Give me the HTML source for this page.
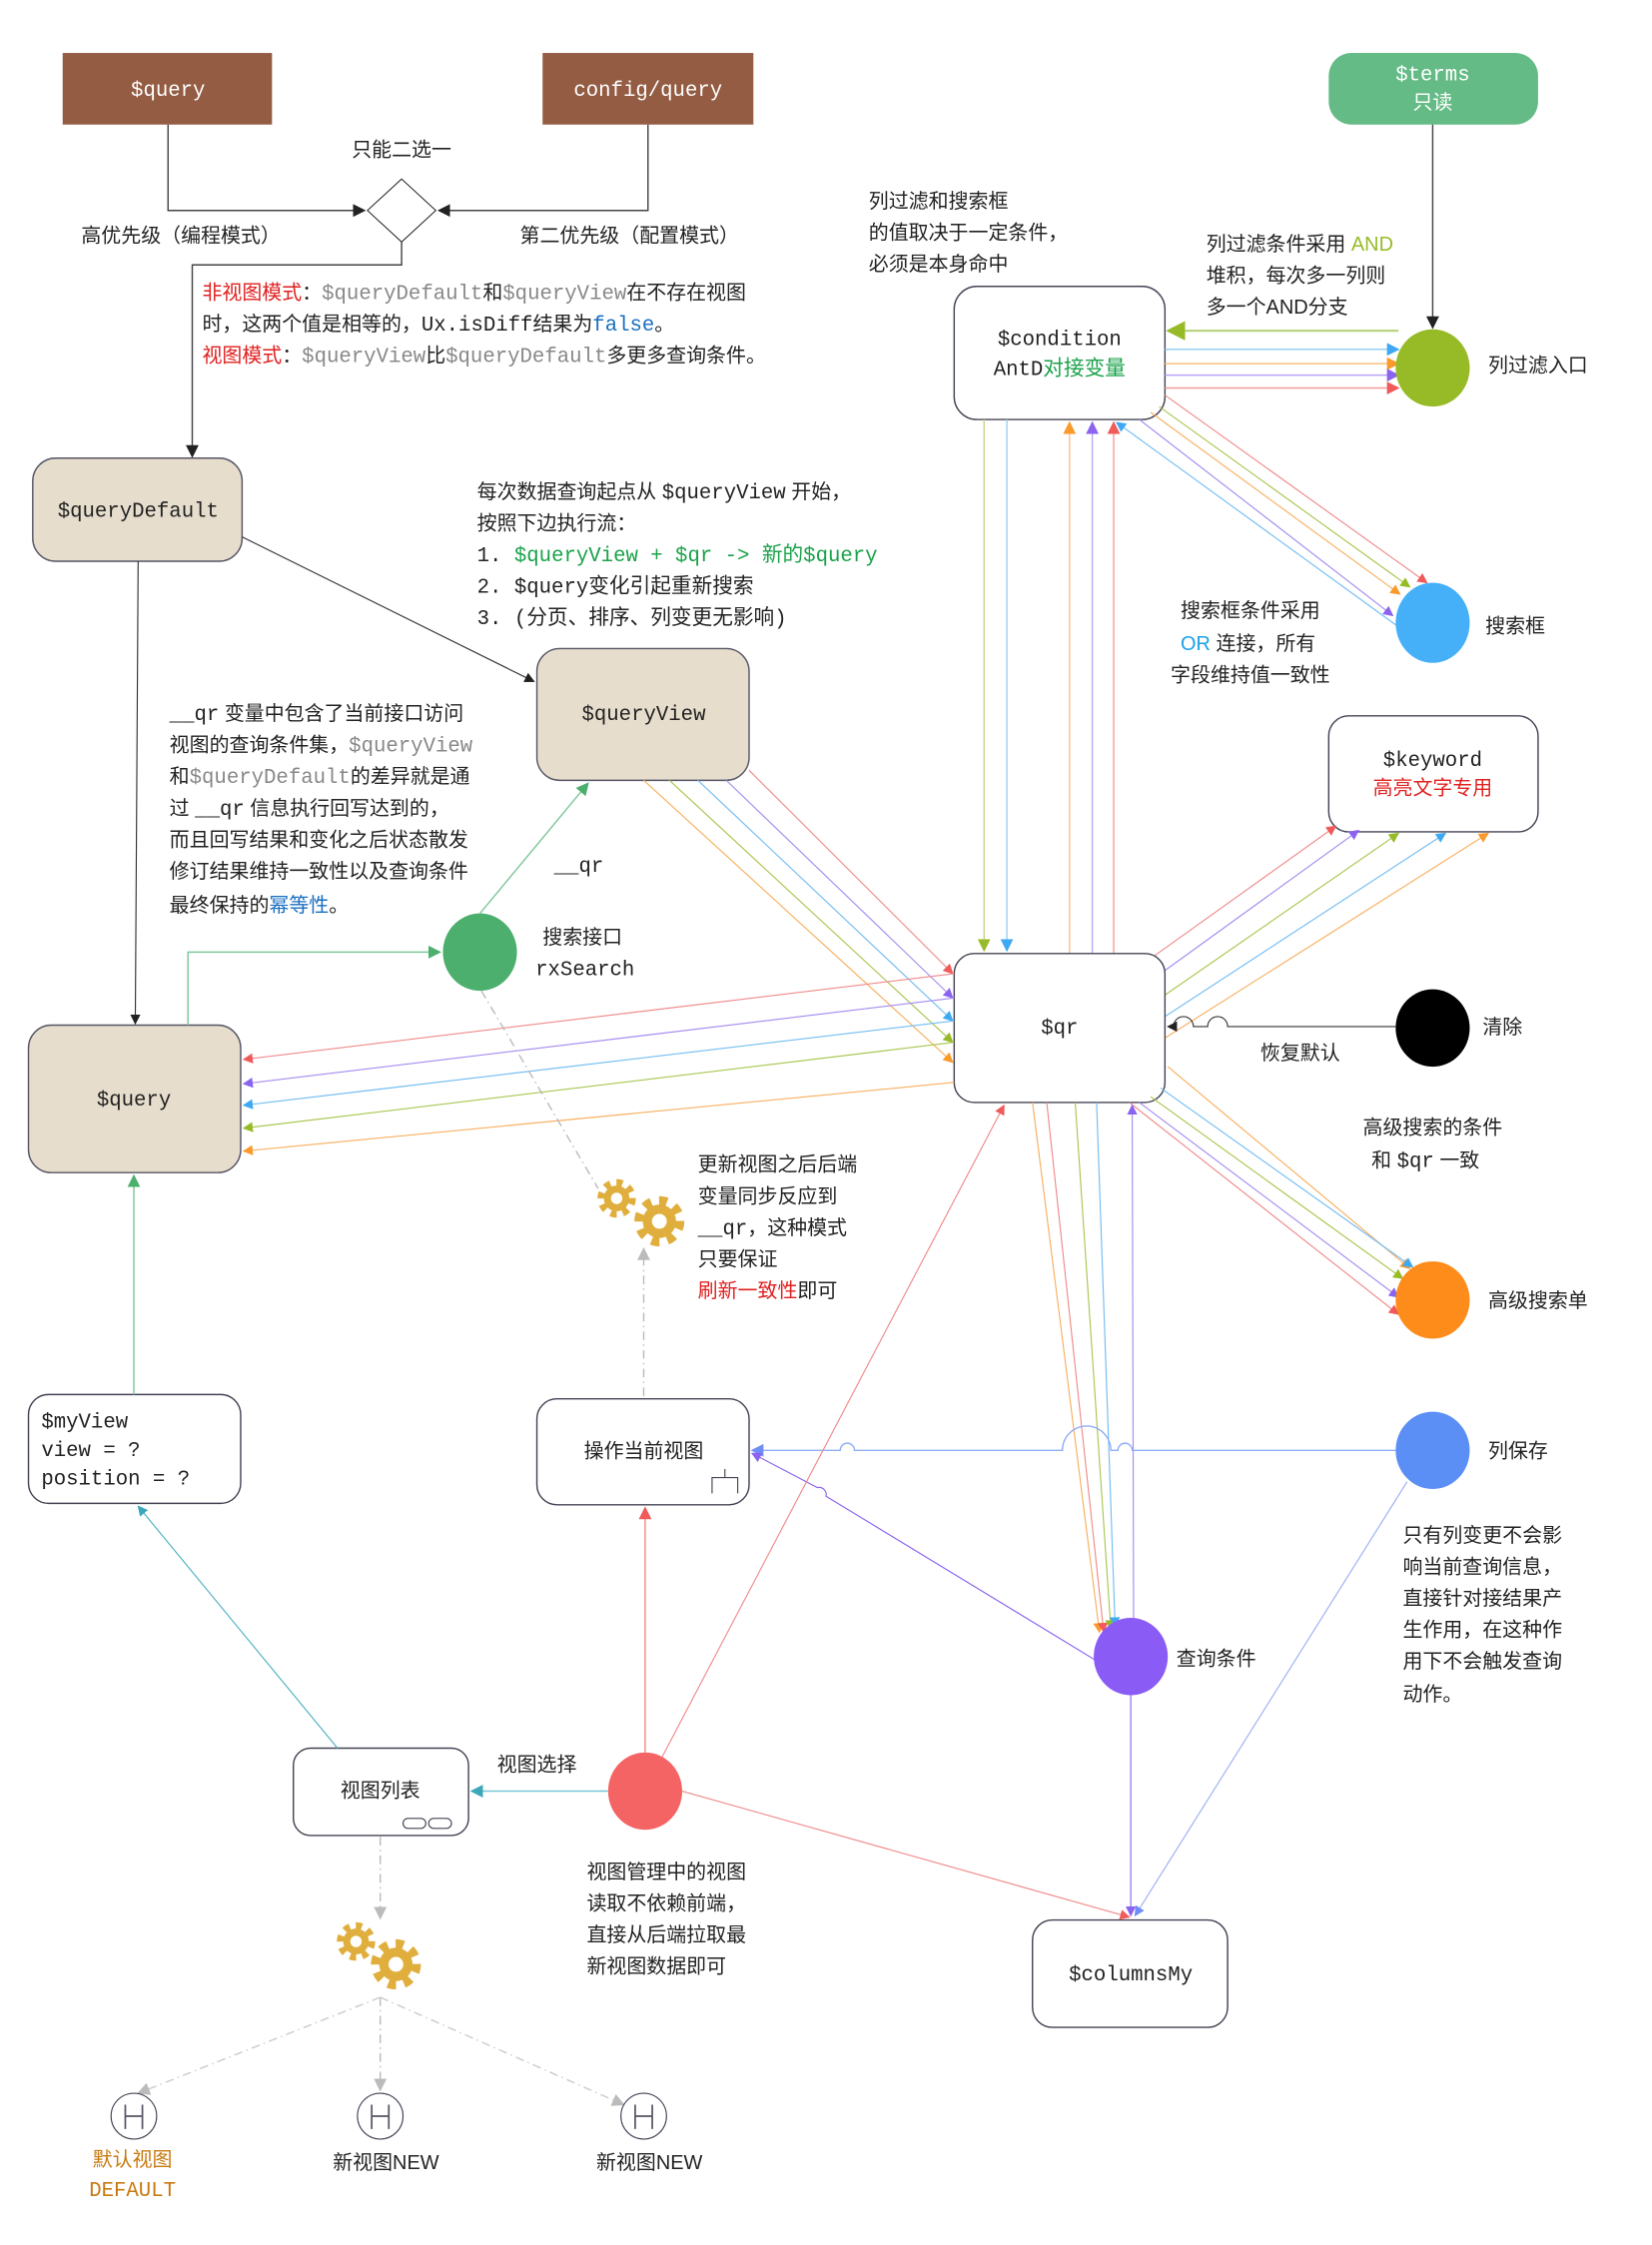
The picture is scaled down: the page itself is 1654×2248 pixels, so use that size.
<!DOCTYPE html>
<html><head><meta charset="utf-8">
<style>
html,body{margin:0;padding:0;background:#fff;}
svg{display:block;}
text{font-family:"Liberation Sans","Noto Sans CJK SC",sans-serif;font-size:14px;fill:#222;}
.m{font-family:"Liberation Mono","Noto Sans CJK SC",monospace;font-size:14.5px;}
</style></head><body>
<svg width="1654" height="2248" viewBox="0 0 1160 1568" preserveAspectRatio="none" xmlns="http://www.w3.org/2000/svg">
<defs>
<marker id="k" viewBox="0 0 10 10" refX="9" refY="5" markerWidth="9" markerHeight="9" orient="auto"><path d="M0,0L10,5L0,10z" fill="#222"/></marker>
<marker id="r" viewBox="0 0 10 10" refX="9" refY="5" markerWidth="9" markerHeight="9" orient="auto"><path d="M0,0L10,5L0,10z" fill="#f05a5a"/></marker>
<marker id="p" viewBox="0 0 10 10" refX="9" refY="5" markerWidth="9" markerHeight="9" orient="auto"><path d="M0,0L10,5L0,10z" fill="#8b63f0"/></marker>
<marker id="b" viewBox="0 0 10 10" refX="9" refY="5" markerWidth="9" markerHeight="9" orient="auto"><path d="M0,0L10,5L0,10z" fill="#3ea9f2"/></marker>
<marker id="g" viewBox="0 0 10 10" refX="9" refY="5" markerWidth="9" markerHeight="9" orient="auto"><path d="M0,0L10,5L0,10z" fill="#97bb27"/></marker>
<marker id="o" viewBox="0 0 10 10" refX="9" refY="5" markerWidth="9" markerHeight="9" orient="auto"><path d="M0,0L10,5L0,10z" fill="#fa9a2a"/></marker>
<marker id="t" viewBox="0 0 10 10" refX="9" refY="5" markerWidth="9" markerHeight="9" orient="auto"><path d="M0,0L10,5L0,10z" fill="#3aa8b8"/></marker>
<marker id="gg" viewBox="0 0 10 10" refX="9" refY="5" markerWidth="9" markerHeight="9" orient="auto"><path d="M0,0L10,5L0,10z" fill="#4caf6d"/></marker>
<marker id="bl" viewBox="0 0 10 10" refX="9" refY="5" markerWidth="9" markerHeight="9" orient="auto"><path d="M0,0L10,5L0,10z" fill="#6f8ef5"/></marker>
<marker id="gr" viewBox="0 0 10 10" refX="9" refY="5" markerWidth="9" markerHeight="9" orient="auto"><path d="M0,0L10,5L0,10z" fill="#bbb"/></marker>
<g id="gear"><circle r="9" fill="#e0ae3c"/><circle r="11" fill="none" stroke="#e0ae3c" stroke-width="5" stroke-dasharray="4.3 4.3"/><circle r="4" fill="#fff"/></g>
</defs>

<rect x="44" y="37" width="147" height="50" fill="#935c43"/>
<text x="118" y="67" text-anchor="middle" class="m" style="fill:#fff">$query</text>
<rect x="381" y="37" width="148" height="50" fill="#935c43"/>
<text x="455" y="67" text-anchor="middle" class="m" style="fill:#fff">config/query</text>
<rect x="933" y="37" width="147" height="50" rx="16" fill="#64bb85"/>
<text x="1006" y="56" text-anchor="middle" class="m" style="fill:#fff">$terms</text>
<text x="1006" y="76" text-anchor="middle" style="fill:#fff">只读</text>
<path d="M118,87V147H256" fill="none" stroke="#444" marker-end="url(#k)"/>
<path d="M455,87V147H308" fill="none" stroke="#444" marker-end="url(#k)"/>
<path d="M282,125L306,147L282,169L258,147z" fill="#fff" stroke="#222" stroke-width="0.7"/>
<text x="282" y="109" text-anchor="middle">只能二选一</text>
<text x="127" y="169" text-anchor="middle">高优先级（编程模式）</text>
<text x="442" y="169" text-anchor="middle">第二优先级（配置模式）</text>
<path d="M282,169V185H135V319" fill="none" stroke="#444" marker-end="url(#k)"/>
<text x="142" y="209"><tspan style="fill:#e02020">非视图模式</tspan>：<tspan class="m" style="fill:#888">$queryDefault</tspan>和<tspan class="m" style="fill:#888">$queryView</tspan>在不存在视图</text>
<text x="142" y="231">时，这两个值是相等的，<tspan class="m">Ux.isDiff</tspan>结果为<tspan class="m" style="fill:#1a6fc0">false</tspan>。</text>
<text x="142" y="253"><tspan style="fill:#e02020">视图模式</tspan>：<tspan class="m" style="fill:#888">$queryView</tspan>比<tspan class="m" style="fill:#888">$queryDefault</tspan>多更多查询条件。</text>

<path d="M1006,87V229" stroke="#444" fill="none" marker-end="url(#k)"/>

<rect x="23" y="320" width="147" height="72" rx="16" fill="#e6ddcc" stroke="#556"/>
<text x="97" y="361" text-anchor="middle" class="m">$queryDefault</text>
<path d="M170,375L375,476" stroke="#333" stroke-width="0.8" marker-end="url(#k)"/>
<path d="M97,392L95,715" stroke="#333" stroke-width="0.8" marker-end="url(#k)"/>
<text x="335" y="348">每次数据查询起点从 <tspan class="m">$queryView</tspan> 开始，</text>
<text x="335" y="370">按照下边执行流：</text>
<text x="335" y="392" class="m">1. <tspan style="fill:#1aa24a">$queryView + $qr -&gt; 新的$query</tspan></text>
<text x="335" y="414" class="m">2. $query变化引起重新搜索</text>
<text x="335" y="436" class="m">3. (分页、排序、列变更无影响)</text>
<rect x="377" y="453" width="149" height="92" rx="16" fill="#e6ddcc" stroke="#556"/>
<text x="452" y="503" text-anchor="middle" class="m">$queryView</text>
<rect x="20" y="716" width="149" height="103" rx="16" fill="#e6ddcc" stroke="#556"/>
<text x="94" y="772" text-anchor="middle" class="m">$query</text>

<text x="119" y="503"><tspan class="m">__qr</tspan> 变量中包含了当前接口访问</text>
<text x="119" y="525">视图的查询条件集，<tspan class="m" style="fill:#888">$queryView</tspan></text>
<text x="119" y="547">和<tspan class="m" style="fill:#888">$queryDefault</tspan>的差异就是通</text>
<text x="119" y="569">过 <tspan class="m">__qr</tspan> 信息执行回写达到的，</text>
<text x="119" y="591">而且回写结果和变化之后状态散发</text>
<text x="119" y="613">修订结果维持一致性以及查询条件</text>
<text x="119" y="637">最终保持的<tspan style="fill:#1a6fc0">幂等性</tspan>。</text>

<text x="610" y="145">列过滤和搜索框</text>
<text x="610" y="167">的值取决于一定条件，</text>
<text x="610" y="189">必须是本身命中</text>
<text x="847" y="175">列过滤条件采用 <tspan style="fill:#97bb27">AND</tspan></text>
<text x="847" y="197">堆积，每次多一列则</text>
<text x="847" y="219">多一个AND分支</text>
<rect x="670" y="200" width="148" height="93" rx="16" fill="#fff" stroke="#445"/>
<text x="744" y="241" text-anchor="middle" class="m">$condition</text>
<text x="744" y="262" text-anchor="middle" class="m">AntD<tspan style="fill:#1aa24a">对接变量</tspan></text>
<path d="M982,231H820" stroke="#b8d27a" stroke-width="1.5" marker-end="url(#g)"/>
<path d="M818,244H982" stroke="#8ccbf5" marker-end="url(#b)"/>
<path d="M818,254H982" stroke="#f8c07c" marker-end="url(#o)"/>
<path d="M818,262H982" stroke="#b9a2f3" marker-end="url(#p)"/>
<path d="M818,271H982" stroke="#f39a9a" marker-end="url(#r)"/>
<ellipse cx="1006" cy="257" rx="26" ry="27" fill="#97bb27"/>
<text x="1045" y="260">列过滤入口</text>

<path d="M818,276L1002,407" stroke="#f08a8a" stroke-width="0.8" marker-end="url(#r)"/>
<path d="M814,284L990,410" stroke="#a8c650" stroke-width="0.8" marker-end="url(#g)"/>
<path d="M808,288L983,415" stroke="#f7b060" stroke-width="0.8" marker-end="url(#o)"/>
<path d="M800,293L978,430" stroke="#a58cf0" stroke-width="0.8" marker-end="url(#p)"/>
<path d="M985,440L784,295" stroke="#74bdf2" stroke-width="0.8" marker-end="url(#b)"/>
<ellipse cx="1006" cy="435" rx="26" ry="28" fill="#45b0f8"/>
<text x="1043" y="442">搜索框</text>
<text x="829" y="431">搜索框条件采用</text>
<text x="829" y="454"><tspan style="fill:#1aa0e8">OR</tspan> 连接，所有</text>
<text x="822" y="476">字段维持值一致性</text>

<path d="M691,293V664" stroke="#c8d88a" marker-end="url(#g)"/>
<path d="M707,293V664" stroke="#9fd0f5" marker-end="url(#b)"/>
<path d="M751,666V295" stroke="#f8c590" marker-end="url(#o)"/>
<path d="M767,666V295" stroke="#bfaaf3" marker-end="url(#p)"/>
<path d="M782,666V295" stroke="#f2a0a0" marker-end="url(#r)"/>

<rect x="933" y="500" width="147" height="81" rx="14" fill="#fff" stroke="#445"/>
<text x="1006" y="535" text-anchor="middle" class="m">$keyword</text>
<text x="1006" y="555" text-anchor="middle" style="fill:#e02020">高亮文字专用</text>
<path d="M810,668L938,577" stroke="#f08a8a" stroke-width="0.8" marker-end="url(#r)"/>
<path d="M815,680L954,580" stroke="#a58cf0" stroke-width="0.8" marker-end="url(#p)"/>
<path d="M818,695L982,582" stroke="#a8c650" stroke-width="0.8" marker-end="url(#g)"/>
<path d="M818,710L1015,582" stroke="#74bdf2" stroke-width="0.8" marker-end="url(#b)"/>
<path d="M818,725L1045,582" stroke="#f7b060" stroke-width="0.8" marker-end="url(#o)"/>

<rect x="670" y="666" width="148" height="104" rx="14" fill="#fff" stroke="#445"/>
<text x="744" y="722" text-anchor="middle" class="m">$qr</text>

<path d="M526,538L669,680" stroke="#f08a8a" stroke-width="0.8" marker-end="url(#r)"/>
<path d="M510,545L669,697" stroke="#a58cf0" stroke-width="0.8" marker-end="url(#p)"/>
<path d="M490,545L669,713" stroke="#74bdf2" stroke-width="0.8" marker-end="url(#b)"/>
<path d="M470,545L669,728" stroke="#a8c650" stroke-width="0.8" marker-end="url(#g)"/>
<path d="M452,545L669,742" stroke="#f7b060" stroke-width="0.8" marker-end="url(#o)"/>
<path d="M670,680L171,740" stroke="#f08a8a" stroke-width="0.8" marker-end="url(#r)"/>
<path d="M670,697L171,757" stroke="#a58cf0" stroke-width="0.8" marker-end="url(#p)"/>
<path d="M670,713L171,772" stroke="#74bdf2" stroke-width="0.8" marker-end="url(#b)"/>
<path d="M670,728L171,788" stroke="#a8c650" stroke-width="0.8" marker-end="url(#g)"/>
<path d="M670,756L171,804" stroke="#f7b060" stroke-width="0.8" marker-end="url(#o)"/>

<ellipse cx="1006" cy="718" rx="26" ry="27" fill="#000"/>
<text x="1041" y="722">清除</text>
<path d="M980,717H862a7,7 0 0 0 -14,0H838a7,7 0 0 0 -14,0H820" fill="none" stroke="#333" stroke-width="0.8" marker-end="url(#k)"/>
<text x="885" y="740">恢复默认</text>

<text x="957" y="792">高级搜索的条件</text>
<text x="963" y="815">和 <tspan class="m">$qr</tspan> 一致</text>
<path d="M820,745L990,886" stroke="#f7b060" stroke-width="0.8" marker-end="url(#o)"/>
<path d="M815,760L992,885" stroke="#74bdf2" stroke-width="0.8" marker-end="url(#b)"/>
<path d="M808,766L985,893" stroke="#a8c650" stroke-width="0.8" marker-end="url(#g)"/>
<path d="M800,770L982,906" stroke="#a58cf0" stroke-width="0.8" marker-end="url(#p)"/>
<path d="M793,770L982,918" stroke="#f08a8a" stroke-width="0.8" marker-end="url(#r)"/>
<ellipse cx="1006" cy="908" rx="26" ry="27" fill="#fd8c1a"/>
<text x="1045" y="913">高级搜索单</text>

<path d="M725,770L772,1140" stroke="#f7b060" stroke-width="0.8" marker-end="url(#o)"/>
<path d="M735,770L775,1140" stroke="#f08a8a" stroke-width="0.8" marker-end="url(#r)"/>
<path d="M755,770L780,1138" stroke="#a8c650" stroke-width="0.8" marker-end="url(#g)"/>
<path d="M770,770L783,1136" stroke="#74bdf2" stroke-width="0.8" marker-end="url(#b)"/>
<path d="M796,1135L795,772" stroke="#a58cf0" stroke-width="0.8" marker-end="url(#p)"/>

<ellipse cx="337" cy="665" rx="26" ry="27" fill="#4caf6d"/>
<text x="381" y="659">搜索接口</text>
<text x="376" y="681" class="m">rxSearch</text>
<text x="389" y="609" class="m">__qr</text>
<path d="M132,716V665H309" fill="none" stroke="#7fc69a" marker-end="url(#gg)"/>
<path d="M337,638L413,547" stroke="#7fc69a" marker-end="url(#gg)"/>
<path d="M338,692L420,830" stroke="#bbb" stroke-dasharray="6 3 1 3" fill="none"/>
<path d="M452,975V872" stroke="#bbb" stroke-dasharray="6 3 1 3" marker-end="url(#gr)"/>
<use href="#gear" x="433" y="837"/>
<use href="#gear" transform="translate(463,853) scale(1.3)"/>
<text x="490" y="818">更新视图之后后端</text>
<text x="490" y="840">变量同步反应到</text>
<text x="490" y="862"><tspan class="m">__qr</tspan>，这种模式</text>
<text x="490" y="884">只要保证</text>
<text x="490" y="906"><tspan style="fill:#e02020">刷新一致性</tspan>即可</text>

<rect x="20" y="974" width="149" height="76" rx="14" fill="#fff" stroke="#445"/>
<text x="29" y="997" class="m">$myView</text>
<text x="29" y="1017" class="m">view = ?</text>
<text x="29" y="1037" class="m">position = ?</text>
<path d="M94,974V821" stroke="#7fc69a" marker-end="url(#gg)"/>

<rect x="377" y="977" width="149" height="74" rx="14" fill="#fff" stroke="#445"/>
<text x="452" y="1018" text-anchor="middle">操作当前视图</text>
<path d="M500,1043V1032H518V1043M509,1032V1026" fill="none" stroke="#445" stroke-width="0.8"/>

<ellipse cx="1006" cy="1013" rx="26" ry="27" fill="#5b8ff5"/>
<text x="1045" y="1018">列保存</text>
<path d="M980,1013H795a5,5 0 0 0 -10,0H780a17,17 0 0 0 -34,0H600a5,5 0 0 0 -10,0H528" fill="none" stroke="#90aef5" marker-end="url(#bl)"/>
<path d="M988,1035L797,1338" stroke="#9aaff5" stroke-width="0.8" marker-end="url(#bl)"/>
<text x="985" y="1077">只有列变更不会影</text>
<text x="985" y="1099">响当前查询信息，</text>
<text x="985" y="1121">直接针对接结果产</text>
<text x="985" y="1143">生作用，在这种作</text>
<text x="985" y="1165">用下不会触发查询</text>
<text x="985" y="1188">动作。</text>

<path d="M770,1160L580,1045a5,5 0 0 0 -6,-6L528,1015" fill="none" stroke="#8b63f0" stroke-width="0.8" marker-end="url(#p)"/>
<ellipse cx="794" cy="1157" rx="26" ry="27" fill="#8b5cf5"/>
<text x="826" y="1163">查询条件</text>
<path d="M794,1184V1338" stroke="#8b63f0" stroke-width="0.8" marker-end="url(#p)"/>

<rect x="725" y="1341" width="137" height="75" rx="14" fill="#fff" stroke="#445"/>
<text x="794" y="1383" text-anchor="middle" class="m">$columnsMy</text>

<ellipse cx="453" cy="1251" rx="26" ry="27" fill="#f56464"/>
<path d="M453,1224V1053" stroke="#f08a8a" marker-end="url(#r)"/>
<path d="M465,1227L705,772" stroke="#f08a8a" stroke-width="0.8" marker-end="url(#r)"/>
<path d="M479,1251L793,1339" stroke="#f08a8a" stroke-width="0.8" marker-end="url(#r)"/>
<path d="M427,1251H331" stroke="#7ac4d4" marker-end="url(#t)"/>
<text x="349" y="1237">视图选择</text>
<text x="412" y="1312">视图管理中的视图</text>
<text x="412" y="1334">读取不依赖前端，</text>
<text x="412" y="1356">直接从后端拉取最</text>
<text x="412" y="1378">新视图数据即可</text>

<rect x="206" y="1221" width="123" height="61" rx="12" fill="#fff" stroke="#445"/>
<text x="267" y="1255" text-anchor="middle">视图列表</text>
<rect x="283" y="1270" width="16" height="7" rx="3.5" fill="none" stroke="#445" stroke-width="0.8"/>
<rect x="301" y="1270" width="16" height="7" rx="3.5" fill="none" stroke="#445" stroke-width="0.8"/>
<path d="M237,1221L97,1052" stroke="#4fb0c0" stroke-width="0.8" marker-end="url(#t)"/>
<path d="M267,1283V1340" stroke="#bbb" stroke-dasharray="6 3 1 3" marker-end="url(#gr)"/>
<use href="#gear" transform="translate(250,1356)"/>
<use href="#gear" transform="translate(278,1372) scale(1.3)"/>
<path d="M267,1395L97,1462" stroke="#ccc" stroke-dasharray="6 3 1 3" marker-end="url(#gr)"/>
<path d="M267,1395V1460" stroke="#bbb" stroke-dasharray="6 3 1 3" marker-end="url(#gr)"/>
<path d="M267,1395L438,1470" stroke="#ccc" stroke-dasharray="6 3 1 3" marker-end="url(#gr)"/>
<g fill="#fff" stroke="#445" stroke-width="0.8">
<circle cx="94" cy="1478" r="16"/><circle cx="267" cy="1478" r="16"/><circle cx="452" cy="1478" r="16"/>
</g>
<g stroke="#556" stroke-width="1.2" fill="none">
<path d="M88,1470V1487M100,1470V1487M88,1478H100"/>
<path d="M261,1470V1487M273,1470V1487M261,1478H273"/>
<path d="M446,1470V1487M458,1470V1487M446,1478H458"/>
</g>
<text x="93" y="1513" text-anchor="middle" style="fill:#c87a10">默认视图</text>
<text x="93" y="1534" text-anchor="middle" class="m" style="fill:#c87a10">DEFAULT</text>
<text x="271" y="1515" text-anchor="middle">新视图NEW</text>
<text x="456" y="1515" text-anchor="middle">新视图NEW</text>
</svg>
</body></html>
